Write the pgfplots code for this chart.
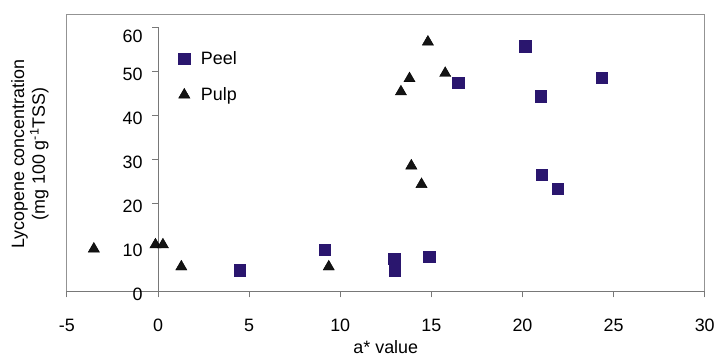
\documentclass[border=0pt]{standalone}
\usepackage{fontspec}
\setmainfont{Liberation Sans}
\usepackage{pgfplots}
\pgfplotsset{compat=1.18}
\definecolor{peel}{RGB}{42,22,110}
\definecolor{axgray}{RGB}{120,120,120}
\begin{document}
\begin{tikzpicture}
\begin{axis}[
  scale only axis, width=639bp, height=265bp,
  xmin=-5, xmax=30, ymin=0, ymax=60,
  axis x line=bottom, axis y line=middle,
  axis line style={-, axgray, line width=0.8bp},
  hide obscured x ticks=false, hide obscured y ticks=false,
  xtick={-5,0,...,30}, ytick={0,10,...,50},
  extra y ticks={60},
  extra y tick style={yticklabel style={yshift=-6bp}},
  tick align=outside, major tick length=6bp,
  tick style={axgray, line width=0.8bp},
  /pgf/number format/assume math mode=true,
  font=\fontsize{18}{21}\selectfont,
  xticklabel style={yshift=-18bp},
  yticklabel style={xshift=-6bp, yshift=-3bp},
  xlabel={a* value}, ylabel={Lycopene concentration\\(mg 100 g\textsuperscript{-1}TSS)},
  every axis x label/.style={at={(axis description cs:0.5,-0.211)}, anchor=center},
  every axis y label/.style={at={(axis description cs:-0.058,0.519)}, rotate=90, anchor=center, align=center},
  clip=false,
  legend style={at={(axis cs:1.12,55.0)}, anchor=north west, draw=none, fill=none,
    font=\fontsize{18}{21}\selectfont, row sep=18bp, inner sep=0bp,
    /tikz/every odd column/.append style={column sep=9bp}},
  legend cell align=left,
]
\addplot[only marks, mark=square*, mark size=5.7bp, color=peel] coordinates {
(20.14,55.6) (16.47,47.4) (24.35,48.5) (21.0,44.3) (21.07,26.5) (21.94,23.3)
(12.96,7.5) (13.0,4.8) (14.88,7.9) (4.48,4.8) (9.13,9.5)
};
\addlegendentry{Peel}
\addplot[only marks, mark=triangle*, mark size=6.5bp, color=black, mark options={fill=black!92}] coordinates {
(14.81,56.6) (15.76,49.5) (13.8,48.3) (13.33,45.3) (13.9,28.5) (14.46,24.3)
(-3.52,9.66) (-0.14,10.6) (0.27,10.6) (1.28,5.6) (9.37,5.6)
};
\addlegendentry{Pulp}
\draw[axgray!80, line width=1bp] (axis cs:-5,0) -- ([yshift=12bp]axis cs:-5,60) -- ([yshift=12bp]axis cs:30,60) -- (axis cs:30,0);
\path (axis cs:-5,0) ++(-67bp,-64bp) coordinate (bbsw);
\path (axis cs:30,60) ++(12bp,27bp) coordinate (bbne);
\end{axis}
\path[use as bounding box] (bbsw) rectangle (bbne);
\end{tikzpicture}
\end{document}
